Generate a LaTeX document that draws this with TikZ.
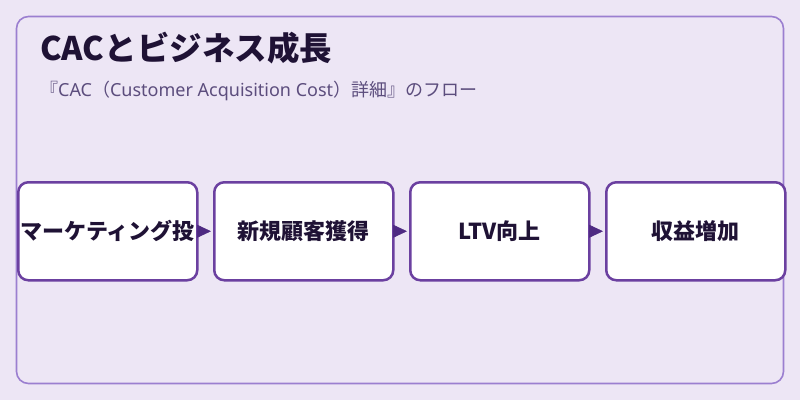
\documentclass[tikz,border=0pt]{standalone}
\usepackage{fontspec}
\setmainfont{Noto Sans CJK JP}
\newfontfamily\latin{Noto Sans}
\usetikzlibrary{arrows.meta}
\definecolor{bgc}{HTML}{EDE6F5}
\definecolor{framec}{HTML}{9B7FD0}
\definecolor{boxc}{HTML}{6B40A0}
\definecolor{arrc}{HTML}{4E2A82}
\definecolor{txtc}{HTML}{1F1235}
\definecolor{subc}{HTML}{5C4D7D}
\tikzset{
  stepbox/.style={draw=boxc, line width=2.5pt, fill=white, rounded corners=10pt,
    minimum width=179pt, minimum height=98pt, inner sep=0pt, anchor=north west,
    font=\bfseries\fontsize{22pt}{24pt}\selectfont, text=txtc},
  flow/.style={draw=arrc, fill=arrc, line width=0.5pt, shorten >=2pt,
    -{Triangle[length=14pt,width=13pt]}}
}
\begin{document}
\begin{tikzpicture}[x=1pt,y=-1pt]
\fill[bgc] (0,0) rectangle (800,400);
\useasboundingbox (0,0) rectangle (800,400);
\draw[framec, line width=1.6pt, rounded corners=12pt] (16.5,16.5) rectangle (783.5,383.5);
\node[anchor=base west, inner sep=0pt, text=txtc, font=\bfseries\fontsize{32.5pt}{36pt}\selectfont] (title) at (40,60) {CACとビジネス成長};
\node[anchor=base west, inner sep=0pt, text=subc, font=\fontsize{18pt}{22pt}\selectfont] (sub) at (40,96) {『{\latin CAC}（{\latin Customer Acquisition Cost}）詳細』のフロー};
\node[stepbox] (b1) at (17,181) {マーケティング投};
\node[stepbox] (b2) at (213,181) {新規顧客獲得};
\node[stepbox] (b3) at (409,181) {LTV向上};
\node[stepbox] (b4) at (605,181) {収益増加};
\draw[flow] (b1.east) -- (b2.west);
\draw[flow] (b2.east) -- (b3.west);
\draw[flow] (b3.east) -- (b4.west);
\end{tikzpicture}
\end{document}
